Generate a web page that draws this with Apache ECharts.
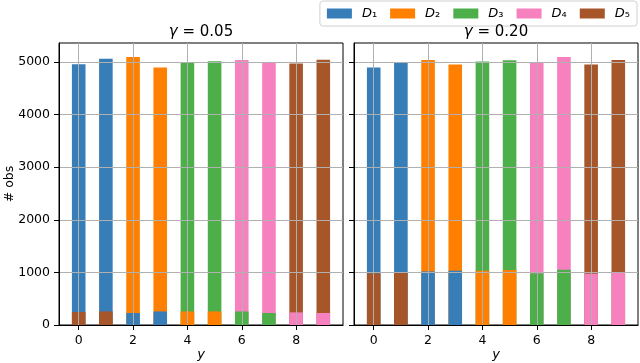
<!DOCTYPE html>
<html>
<head>
<meta charset="utf-8">
<script src="https://cdn.jsdelivr.net/npm/echarts@6/dist/echarts.min.js"></script>
<style>
  html, body { margin: 0; padding: 0; background: #fff; }
  #main { width: 640px; height: 363px; }
</style>
</head>
<body>
<div id="main"></div>
<script>
// class labels y = 0..9
const classes = [0, 1, 2, 3, 4, 5, 6, 7, 8, 9]
const domains = ['D1', 'D2', 'D3', 'D4', 'D5']
const domainSub = ['₁', '₂', '₃', '₄', '₅']
const domainColors = ['#377eb8', '#ff7f00', '#4daf4a', '#f781bf', '#a65628']
// which domain forms the bottom (small) part and the top (big) part of each bar
const minorDomain = [4, 4, 0, 0, 1, 1, 2, 2, 3, 3]
const majorDomain = [0, 0, 1, 1, 2, 2, 3, 3, 4, 4]

// gamma = 0.05 : bottom part and full bar height
const g05Minor = [247, 258, 228, 258, 258, 258, 258, 228, 240, 228]
const g05Total = [4956, 5063, 5094, 4893, 5000, 5013, 5038, 5000, 4969, 5044]
// gamma = 0.20
const g20Minor = [981, 987, 1019, 1032, 1032, 1045, 981, 1051, 975, 994]
const g20Total = [4893, 4994, 5038, 4950, 5006, 5031, 4987, 5094, 4950, 5038]

const panelTitles = ['0.05', '0.20']
const xTicks = [0, 2, 4, 6, 8]
const yTicks = [0, 1000, 2000, 3000, 4000, 5000]

const font = 'DejaVu Sans'
const chart = echarts.init(document.getElementById('main'))

// stacking does not work on a value x axis, so the full bar is drawn in the
// upper colour and the lower part is laid over it at the same place
function makeSeries(panel, minor, total) {
  const out = []
  ;[['hi', majorDomain, total, 2], ['lo', minorDomain, minor, 3]].forEach(([layer, dom, vals, z]) => {
    domains.forEach((name, d) => {
      out.push({
        name: name,
        type: 'bar',
        xAxisIndex: panel,
        yAxisIndex: panel,
        barWidth: 13.6,
        barGap: '-100%',
        z: z,
        itemStyle: { color: domainColors[d] },
        emphasis: { disabled: true },
        data: classes.map((c, i) => [c, dom[i] === d ? vals[i] : 0])
      })
    })
  })
  return out
}

function xAxis(idx) {
  return {
    type: 'value',
    gridIndex: idx,
    min: -0.725,
    max: 9.725,
    z: 10,
    name: 'y',
    nameLocation: 'middle',
    nameGap: 23,
    nameMoveOverlap: false,
    nameTextStyle: { fontFamily: font, fontSize: 13, fontStyle: 'italic', color: '#000' },
    axisLine: { show: true, onZero: false, lineStyle: { color: '#000', width: 1 } },
    axisTick: { show: true, length: 5, customValues: xTicks, lineStyle: { color: '#000' } },
    axisLabel: { customValues: xTicks, margin: 9, fontFamily: font, fontSize: 12.5, color: '#000' },
    splitLine: { show: true, lineStyle: { color: '#b0b0b0', width: 1 } }
  }
}

function yAxis(idx) {
  return {
    type: 'value',
    gridIndex: idx,
    min: 0,
    max: 5360,
    z: 10,
    name: idx === 0 ? '# obs' : '',
    nameLocation: 'middle',
    nameGap: 43,
    nameMoveOverlap: false,
    nameTextStyle: { fontFamily: font, fontSize: 12.5, color: '#000' },
    axisLine: { show: true, onZero: false, lineStyle: { color: '#000', width: 1 } },
    axisTick: { show: true, length: 5, customValues: yTicks, lineStyle: { color: '#000' } },
    axisLabel: {
      show: idx === 0, customValues: yTicks, margin: 9,
      fontFamily: font, fontSize: 12.5, color: '#000',
      formatter: v => String(v)
    },
    splitLine: { show: true, lineStyle: { color: '#b0b0b0', width: 1 } }
  }
}

chart.setOption({
  animation: false,
  textStyle: { fontFamily: font },
  title: panelTitles.map((g, i) => ({
    text: '{g|γ} = ' + g,
    left: i === 0 ? 201 : 496,
    top: 25,
    textAlign: 'center',
    padding: 0,
    textStyle: {
      fontFamily: font, fontSize: 15, fontWeight: 'normal', color: '#000',
      rich: { g: { fontFamily: font, fontSize: 15, fontStyle: 'italic', color: '#000' } }
    }
  })),
  legend: {
    data: domains,
    right: 3,
    top: 1,
    padding: [6, 7],
    itemWidth: 25,
    itemHeight: 10,
    itemGap: 13,
    borderColor: '#d0d0d0',
    borderWidth: 1,
    borderRadius: 3,
    icon: 'rect',
    formatter: name => '{d|D}{s|' + domainSub[domains.indexOf(name)] + '}',
    textStyle: {
      color: '#000',
      rich: {
        d: { fontFamily: font, fontSize: 13, fontStyle: 'italic', color: '#000', padding: [0, 0, 0, 5] },
        s: { fontFamily: font, fontSize: 13, color: '#000', padding: [0, 1, 0, 0] }
      }
    }
  },
  grid: [
    { left: 59, top: 43, width: 284, height: 282, show: true, borderColor: '#000', borderWidth: 1, outerBoundsMode: 'none' },
    { left: 354, top: 43, width: 284, height: 282, show: true, borderColor: '#000', borderWidth: 1, outerBoundsMode: 'none' }
  ],
  xAxis: [xAxis(0), xAxis(1)],
  yAxis: [yAxis(0), yAxis(1)],
  series: makeSeries(0, g05Minor, g05Total).concat(makeSeries(1, g20Minor, g20Total))
})
</script>
</body>
</html>
